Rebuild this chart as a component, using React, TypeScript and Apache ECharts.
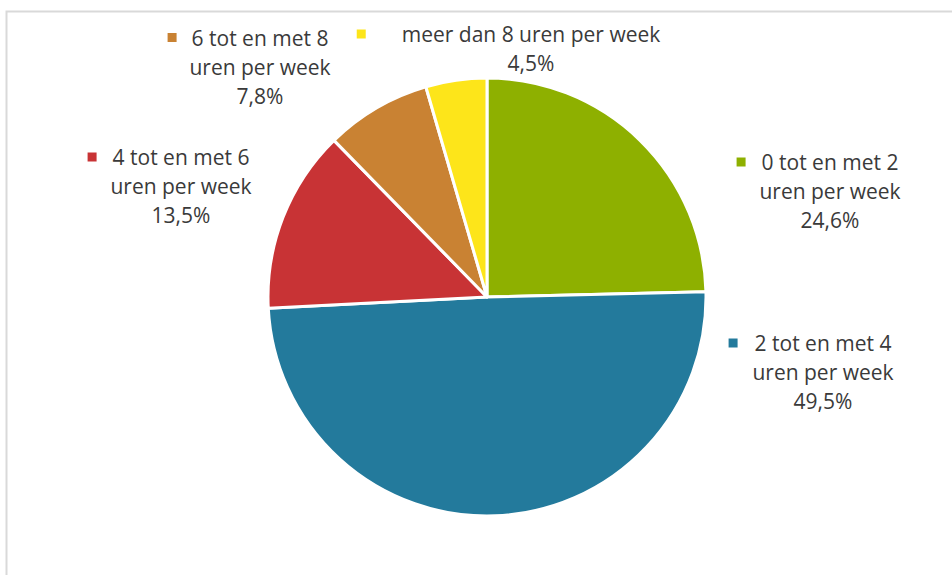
import React, { useEffect, useRef } from "react";
import * as echarts from "echarts";

const categories = [
  "0 tot en met 2\nuren per week",
  "2 tot en met 4\nuren per week",
  "4 tot en met 6\nuren per week",
  "6 tot en met 8\nuren per week",
  "meer dan 8 uren per week",
];
const values = [24.6, 49.5, 13.5, 7.8, 4.5];
const colors = ["#8eb000", "#237a9c", "#c83335", "#c98233", "#fde51a"];

// label placement (text block centre x, top y) and marker gap
const labelPos = [
  [830, 147.5],
  [823, 328.5],
  [181, 142.5],
  [260, 23],
  [531, 19.5],
];
const markerGap = [16, 17, 16, 15, 36];

export default function App() {
  const ref = useRef<HTMLDivElement>(null);
  useEffect(() => {
    if (!ref.current) return;
    const chart = echarts.init(ref.current, null, { renderer: "svg" });
    const font = "'Open Sans', sans-serif";
    const rich: any = {
      e: { width: 9, height: 9, lineHeight: 29 },
    };
    colors.forEach((c, i) => {
      rich["m" + i] = { width: 9, height: 9, backgroundColor: c, lineHeight: 29 };
      rich["g" + i] = { width: markerGap[i], lineHeight: 29 };
    });
    chart.setOption({
      animation: false,
      backgroundColor: "#ffffff",
      graphic: [
        {
          type: "rect",
          shape: { x: 6.5, y: 11.5, width: 1200, height: 800 },
          style: { fill: "none", stroke: "#d9d9d9", lineWidth: 2 },
          silent: true,
        },
      ],
      series: [
        {
          type: "pie",
          center: [487, 297],
          radius: [0, 219],
          startAngle: 90,
          clockwise: true,
          avoidLabelOverlap: false,
          itemStyle: { borderColor: "#ffffff", borderWidth: 3 },
          emphasis: { disabled: true },
          labelLine: { show: false },
          label: {
            show: true,
            position: "outside",
            color: "#3a3a3a",
            fontFamily: font,
            fontSize: 21,
            lineHeight: 29,
            align: "center",
            verticalAlign: "top",
            rich,
            formatter: (p: any) => {
              const i = p.dataIndex;
              const lines = String(p.name).split("\n");
              lines[0] = `{m${i}|}{g${i}|}${lines[0]}{g${i}|}{e|}`;
              lines.push(p.value.toFixed(1).replace(".", ",") + "%");
              return lines.join("\n");
            },
          },
          labelLayout: (params: any) => {
            const [x, y] = labelPos[params.dataIndex];
            return { x, y, align: "center", verticalAlign: "top" };
          },
          data: values.map((v, i) => ({
            value: v,
            name: categories[i],
            itemStyle: { color: colors[i] },
          })),
        },
      ],
    });
    return () => chart.dispose();
  }, []);
  return (
    <div
      ref={ref}
      style={{ position: "fixed", left: 0, top: 0, width: 952, height: 575 }}
    />
  );
}
